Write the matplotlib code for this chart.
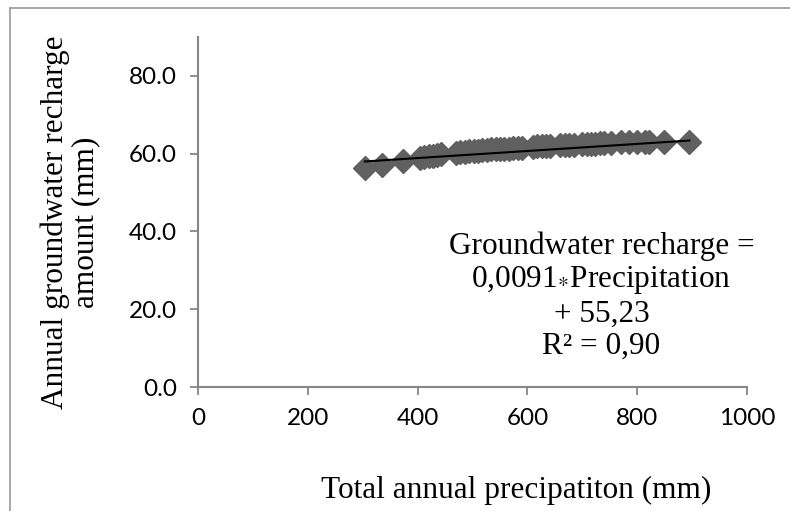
import numpy as np
import matplotlib.pyplot as plt
from matplotlib.lines import Line2D

# datos
precipitacion = [304, 336, 373, 405, 412, 420, 428, 436, 443, 470, 478, 486, 494, 502,
                 510, 518, 526, 534, 542, 550, 558, 566, 574, 582, 590, 610, 618, 626,
                 634, 642, 660, 668, 676, 684, 700, 708, 716, 724, 732, 740, 752, 770,
                 785, 800, 815, 822, 848, 895]
recarga = [56.3, 57.2, 58.2, 59.0, 59.2, 59.4, 59.5, 59.7, 59.8, 60.2, 60.4, 60.5, 60.6,
           60.7, 60.8, 60.9, 61.0, 61.1, 61.1, 61.2, 61.3, 61.3, 61.4, 61.5, 61.5, 61.8,
           61.9, 61.9, 62.0, 62.0, 62.2, 62.2, 62.3, 62.3, 62.5, 62.5, 62.6, 62.6, 62.7,
           62.7, 62.8, 62.9, 63.0, 63.0, 63.1, 63.1, 62.9, 63.0]
pendiente = 0.0091
intercepto = 55.23

x_ticks = [0, 200, 400, 600, 800, 1000]
y_ticks = [0, 20, 40, 60, 80]

plt.rcParams['mathtext.fontset'] = 'stix'
gris = "#868686"

fig = plt.figure(figsize=(7.9, 5.11), dpi=100)
ax = fig.add_axes([198/790, 1 - 387/511, 549/790, 350/511])

ax.plot(precipitacion, recarga, linestyle='none', marker='D', markersize=12,
        color="#606060", zorder=2)
xx = np.array([min(precipitacion), max(precipitacion)])
ax.plot(xx, pendiente*xx + intercepto, color="black", linewidth=1.5, zorder=3)

ax.set_xlim(0, 1000)
ax.set_ylim(0, 90)
ax.set_xticks(x_ticks)
ax.set_yticks(y_ticks)
ax.set_xticklabels([str(v) for v in x_ticks])
ax.set_yticklabels(["%.1f" % v for v in y_ticks])
for lab in ax.get_xticklabels() + ax.get_yticklabels():
    lab.set_family("Lato")
    lab.set_fontsize(17.5)
ax.tick_params(direction='out', length=6, width=1.3, color=gris, pad=9)

for s in ['top', 'right']:
    ax.spines[s].set_visible(False)
for s in ['left', 'bottom']:
    ax.spines[s].set_color(gris)
    ax.spines[s].set_linewidth(1.5)

ax.text(735, 6.8, "Groundwater recharge =\n0,0091$_{*}$Precipitation\n+ 55,23\nR² = 0,90",
        ha='center', va='bottom', fontsize=22.5, family="Liberation Serif", linespacing=1.14)

fig.text(516/790, 1 - 490/511, "Total annual precipatiton (mm)", ha='center', va='center',
         fontsize=22.5, family="Liberation Serif")
fig.text(70/790, 1 - 222/511, "Annual groundwater recharge\namount (mm)", ha='center',
         va='center', rotation=90, fontsize=22.5, family="Liberation Serif", linespacing=1.05)

# marco exterior
fig.add_artist(Line2D([10/790, 10/790], [0, 1 - 8/511], color="#9a9a9a", linewidth=1.2))
fig.add_artist(Line2D([10/790, 1], [1 - 8/511, 1 - 8/511], color="#9a9a9a", linewidth=1.2))

fig.savefig("out.png", dpi=100)
